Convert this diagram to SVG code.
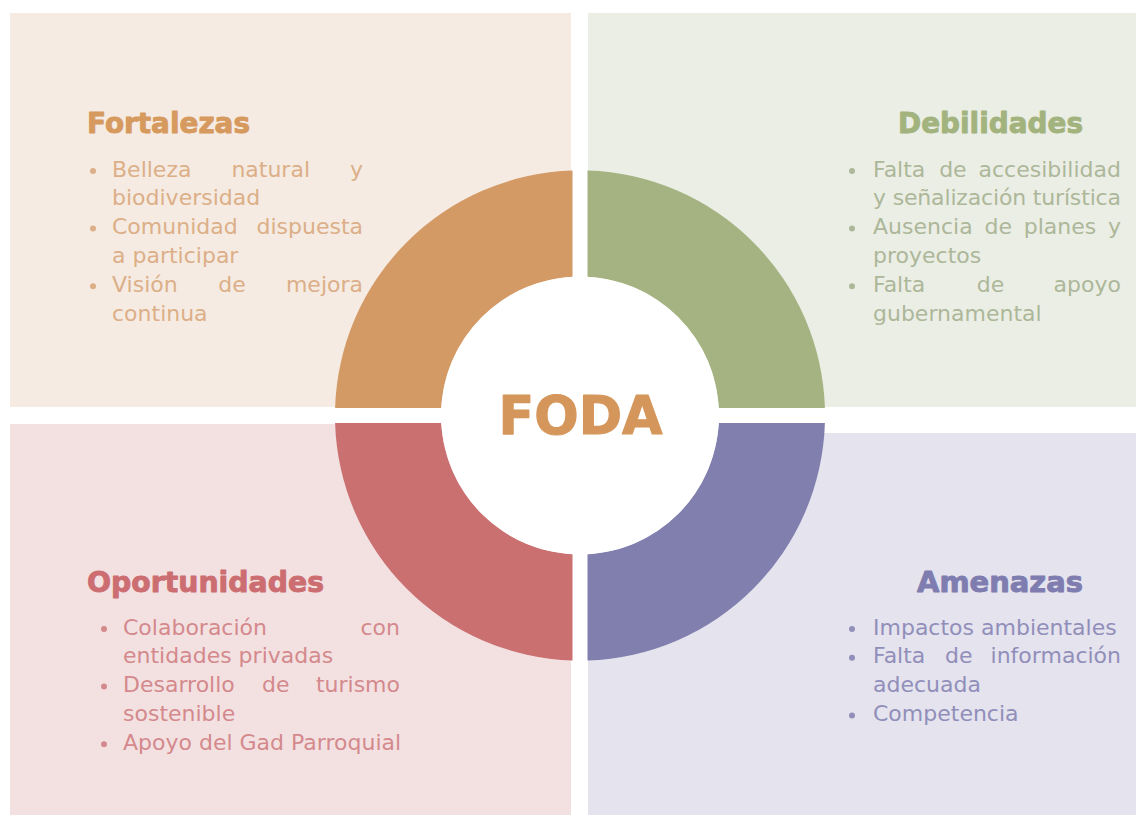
<svg xmlns="http://www.w3.org/2000/svg" width="1136" height="817" viewBox="0 0 1136 817">
<style>
.title{font-family:"DejaVu Sans","Liberation Sans",sans-serif;font-weight:bold;font-size:28px;stroke-width:0.9;stroke-linejoin:round}
.body{font-family:"DejaVu Sans","Liberation Sans",sans-serif;font-size:22px}
.m{text-anchor:middle}
.e{text-anchor:end}
.o{fill:#D6995E;stroke:#D6995E}.ot{fill:#DCAF88}
.g{fill:#A3B37E;stroke:#A3B37E}.gt{fill:#ADB799}
.r{fill:#CC6E71;stroke:#CC6E71}.rt{fill:#D4898C}
.p{fill:#7F7DB0;stroke:#7F7DB0}.pt{fill:#918FBA}
</style>
<rect x="0" y="0" width="1136" height="817" fill="#FFFFFF"/>

<g id="fortalezas">
<rect x="10" y="13" width="561" height="394" fill="#F5EBE2"/>
<path d="M572.5,170.6 A245,245 0 0 0 335.1,408 L441.2,408 A139,139 0 0 1 572.5,276.7 Z" fill="#D49A66"/>
<text class="title o" x="87" y="133" textLength="163" lengthAdjust="spacingAndGlyphs">Fortalezas</text>
<g class="ot">
<circle cx="93" cy="171" r="3"/><circle cx="93" cy="228.6" r="3"/><circle cx="93" cy="286.2" r="3"/>
</g>
<g class="body ot">
<text x="112" y="176.5">Belleza</text><text class="m" x="270.7" y="176.5">natural</text><text class="e" x="363" y="176.5">y</text>
<text x="112" y="205.3">biodiversidad</text>
<text x="112" y="234.1">Comunidad</text><text class="e" x="363" y="234.1">dispuesta</text>
<text x="112" y="262.9">a participar</text>
<text x="112" y="291.7">Visión</text><text class="m" x="232" y="291.7">de</text><text class="e" x="363" y="291.7">mejora</text>
<text x="112" y="320.5">continua</text>
</g>
</g>

<g id="debilidades">
<rect x="588" y="13" width="548" height="394" fill="#EBEEE5"/>
<path d="M587.5,170.6 A245,245 0 0 1 824.9,408 L718.8,408 A139,139 0 0 0 587.5,276.7 Z" fill="#A4B381"/>
<text class="title g" x="898" y="133" textLength="185" lengthAdjust="spacingAndGlyphs">Debilidades</text>
<g class="gt">
<circle cx="852" cy="171" r="3"/><circle cx="852" cy="228.6" r="3"/><circle cx="852" cy="286.2" r="3"/>
</g>
<g class="body gt">
<text x="873" y="176.5">Falta</text><text class="m" x="952.9" y="176.5">de</text><text class="e" x="1121" y="176.5">accesibilidad</text>
<text x="873" y="205.3" textLength="248">y señalización turística</text>
<text x="873" y="234.1">Ausencia</text><text class="m" x="998.2" y="234.1">de</text><text class="m" x="1060" y="234.1">planes</text><text class="e" x="1121" y="234.1">y</text>
<text x="873" y="262.9">proyectos</text>
<text x="873" y="291.7">Falta</text><text class="m" x="990.5" y="291.7">de</text><text class="e" x="1121" y="291.7">apoyo</text>
<text x="873" y="320.5">gubernamental</text>
</g>
</g>

<g id="oportunidades">
<rect x="10" y="424" width="561" height="391" fill="#F3E1E2"/>
<path d="M335.1,423 A245,245 0 0 0 572.5,660.4 L572.5,554.3 A139,139 0 0 1 441.2,423 Z" fill="#CB7071"/>
<text class="title r" x="87" y="592" textLength="237" lengthAdjust="spacingAndGlyphs">Oportunidades</text>
<g class="rt">
<circle cx="104" cy="629" r="3"/><circle cx="104" cy="686.6" r="3"/><circle cx="104" cy="744.2" r="3"/>
</g>
<g class="body rt">
<text x="123" y="634.5">Colaboración</text><text class="e" x="400" y="634.5">con</text>
<text x="123" y="663.3">entidades privadas</text>
<text x="123" y="692.1">Desarrollo</text><text class="m" x="275.8" y="692.1">de</text><text class="e" x="400" y="692.1">turismo</text>
<text x="123" y="720.9">sostenible</text>
<text x="123" y="749.7">Apoyo del Gad Parroquial</text>
</g>
</g>

<g id="amenazas">
<rect x="588" y="433" width="548" height="382" fill="#E4E3EE"/>
<path d="M587.5,660.4 A245,245 0 0 0 824.9,423 L718.8,423 A139,139 0 0 1 587.5,554.3 Z" fill="#817FAE"/>
<text class="title p" x="917" y="592" textLength="166" lengthAdjust="spacingAndGlyphs">Amenazas</text>
<g class="pt">
<circle cx="852" cy="629" r="3"/><circle cx="852" cy="657.8" r="3"/><circle cx="852" cy="715.4" r="3"/>
</g>
<g class="body pt">
<text x="873" y="634.5">Impactos ambientales</text>
<text x="873" y="663.3">Falta</text><text class="m" x="958.7" y="663.3">de</text><text class="e" x="1121" y="663.3">información</text>
<text x="873" y="692.1">adecuada</text>
<text x="873" y="720.9">Competencia</text>
</g>
</g>

<g id="foda">
<circle cx="580" cy="415.5" r="139" fill="#FFFFFF"/>
<text x="498.5" y="434" font-family="'DejaVu Sans','Liberation Sans',sans-serif" font-weight="bold" font-size="54" fill="#D5965B" stroke="#D5965B" stroke-width="1.2" stroke-linejoin="round" textLength="164" lengthAdjust="spacingAndGlyphs">FODA</text>
</g>
</svg>
